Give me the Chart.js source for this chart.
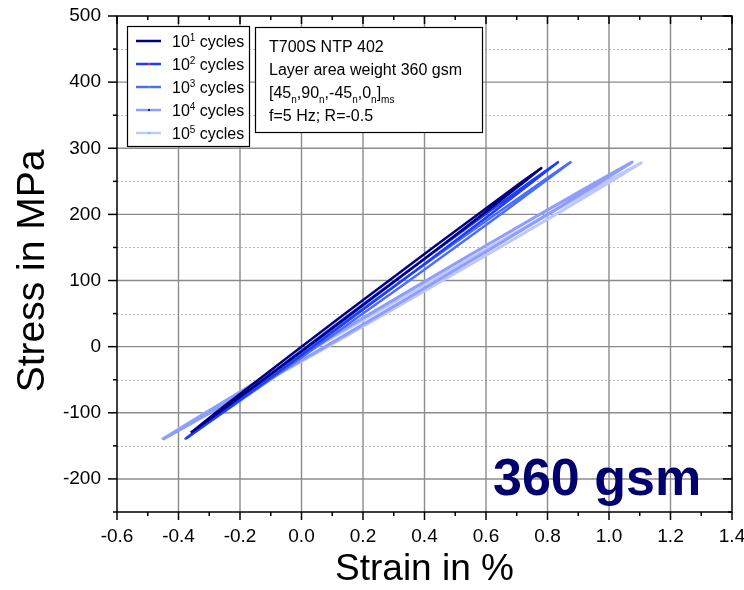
<!DOCTYPE html>
<html>
<head>
<meta charset="utf-8">
<script src="https://cdn.jsdelivr.net/npm/chart.js@4.4.1/dist/chart.umd.min.js"></script>
<style>
  html, body { margin: 0; padding: 0; background: #fff; }
</style>
</head>
<body>
<canvas id="chart" width="744" height="590"></canvas>
<script>
const FONT = "'Liberation Sans', Arial, Helvetica, sans-serif";

const x_ticks = [-0.6, -0.4, -0.2, 0.0, 0.2, 0.4, 0.6, 0.8, 1.0, 1.2, 1.4];
const y_ticks = [-200, -100, 0, 100, 200, 300, 400, 500];

const cycle_labels = ['10^1 cycles', '10^2 cycles', '10^3 cycles', '10^4 cycles', '10^5 cycles'];
const line_colors = ['#000080', '#1c3cff', '#4c6cff', '#8e9eff', '#bec8ff'];
const dot_colors = [null, '#ff2020', '#22c040', '#1414c8', '#30e0ff'];
const line_widths = [2.5, 2.5, 2.5, 3, 3];

const info_lines = ['T700S NTP 402', 'Layer area weight 360 gsm', '[45_n,90_n,-45_n,0_n]_ms', 'f=5 Hz; R=-0.5'];
const big_label = '360 gsm';
const y_title = 'Stress in MPa';

// hysteresis loops: loading branch then unloading branch (strain in %, stress in MPa)
const strain_e1 = [-0.360, -0.270, -0.124, 0.020, 0.164, 0.307, 0.448, 0.588, 0.727, 0.780,
                   0.719, 0.573, 0.428, 0.285, 0.142, 0.000, -0.140, -0.279, -0.360];
const stress_e1 = [-130, -100, -50, 0, 50, 100, 150, 200, 250, 270,
                   250, 200, 150, 100, 50, 0, -50, -100, -130];

const strain_e2 = [-0.375, -0.258, -0.109, 0.037, 0.183, 0.328, 0.471, 0.614, 0.754, 0.834,
                   0.746, 0.597, 0.451, 0.304, 0.160, 0.017, -0.126, -0.266, -0.375];
const stress_e2 = [-139, -100, -50, 0, 50, 100, 150, 200, 250, 279,
                   250, 200, 150, 100, 50, 0, -50, -100, -139];

const strain_e3 = [-0.380, -0.256, -0.102, 0.049, 0.200, 0.351, 0.499, 0.647, 0.792, 0.875,
                   0.784, 0.630, 0.478, 0.327, 0.178, 0.029, -0.119, -0.264, -0.380];
const stress_e3 = [-140, -100, -50, 0, 50, 100, 150, 200, 250, 279,
                   250, 200, 150, 100, 50, 0, -50, -100, -140];

const strain_e4 = [-0.450, -0.297, -0.109, 0.077, 0.260, 0.442, 0.623, 0.801, 0.977, 1.075,
                   0.963, 0.775, 0.589, 0.406, 0.224, 0.043, -0.135, -0.311, -0.450];
const stress_e4 = [-140, -100, -50, 0, 50, 100, 150, 200, 250, 279,
                   250, 200, 150, 100, 50, 0, -50, -100, -140];

const strain_e5 = [-0.455, -0.299, -0.106, 0.085, 0.272, 0.459, 0.644, 0.827, 1.008, 1.105,
                   0.993, 0.801, 0.610, 0.423, 0.236, 0.050, -0.132, -0.313, -0.455];
const stress_e5 = [-140, -100, -50, 0, 50, 100, 150, 200, 250, 278,
                   250, 200, 150, 100, 50, 0, -50, -100, -140];

const loops = [
  [strain_e1, stress_e1],
  [strain_e2, stress_e2],
  [strain_e3, stress_e3],
  [strain_e4, stress_e4],
  [strain_e5, stress_e5],
];

const to_points = (xs, ys) => xs.map((v, i) => ({ x: v, y: ys[i] }));

const datasets = [];
loops.forEach(([xs, ys], i) => {
  datasets.push({
    label: cycle_labels[i],
    data: to_points(xs, ys),
    borderColor: line_colors[i],
    backgroundColor: line_colors[i],
    borderWidth: line_widths[i],
    borderJoinStyle: 'round',
    showLine: true,
    pointRadius: 0,
    tension: 0,
  });
  if (dot_colors[i]) {
    // the original curves carry small coloured markers along the line
    datasets.push({
      label: '',
      data: to_points(xs, ys),
      borderColor: dot_colors[i],
      borderWidth: 1.5,
      borderDash: [2, 8],
      showLine: true,
      pointRadius: 0,
      tension: 0,
    });
  }
});

// draws text like "10^1 cycles" or "[45_n]_ms" with raised / lowered parts
const draw_rich = (ctx, str, x, y, size) => {
  const parts = str.split(/([_^][A-Za-z0-9]+)/).filter(p => p.length);
  ctx.textBaseline = 'alphabetic';
  ctx.textAlign = 'left';
  for (const p of parts) {
    if (p[0] === '^' || p[0] === '_') {
      const small = Math.round(size * 0.65);
      ctx.font = `${small}px ${FONT}`;
      const dy = p[0] === '^' ? -size * 0.38 : size * 0.3;
      ctx.fillText(p.slice(1), x, y + dy);
      x += ctx.measureText(p.slice(1)).width;
    } else {
      ctx.font = `${size}px ${FONT}`;
      ctx.fillText(p, x, y);
      x += ctx.measureText(p).width;
    }
  }
};

const frame_plugin = {
  id: 'frame',
  beforeDatasetsDraw(chart) {
    const { ctx, chartArea: a, scales: { x, y } } = chart;
    ctx.save();
    // minor horizontal grid, dotted
    ctx.strokeStyle = '#b8b8b8';
    ctx.lineWidth = 1;
    ctx.setLineDash([2, 2]);
    for (const v of y_ticks) {
      const py = Math.round(y.getPixelForValue(v - 50)) + 0.5;
      if (py >= a.bottom - 1) continue;
      ctx.beginPath(); ctx.moveTo(a.left, py); ctx.lineTo(a.right, py); ctx.stroke();
    }
    // major grid, solid grey
    ctx.setLineDash([]);
    ctx.strokeStyle = '#8c8c8c';
    ctx.lineWidth = 1.4;
    for (const v of y_ticks) {
      const py = y.getPixelForValue(v);
      if (py <= a.top + 1) continue;
      ctx.beginPath(); ctx.moveTo(a.left, py); ctx.lineTo(a.right, py); ctx.stroke();
    }
    for (const v of x_ticks) {
      const px = x.getPixelForValue(v);
      if (px <= a.left + 1 || px >= a.right - 1) continue;
      ctx.beginPath(); ctx.moveTo(px, a.top); ctx.lineTo(px, a.bottom); ctx.stroke();
    }
    ctx.restore();
  },
  afterDatasetsDraw(chart) {
    const { ctx, chartArea: a, scales: { x, y } } = chart;
    ctx.save();
    ctx.strokeStyle = '#000';
    ctx.lineWidth = 1.5;
    ctx.strokeRect(a.left, a.top, a.right - a.left, a.bottom - a.top);

    const tick = (x1, y1, x2, y2) => { ctx.beginPath(); ctx.moveTo(x1, y1); ctx.lineTo(x2, y2); ctx.stroke(); };
    x_ticks.forEach((v, i) => {
      const px = x.getPixelForValue(v);
      tick(px, a.bottom, px, a.bottom + 8);
      tick(px, a.top, px, a.top + 8);
      if (i < x_ticks.length - 1) {
        const mx = x.getPixelForValue(v + 0.1);
        tick(mx, a.bottom, mx, a.bottom + 4);
        tick(mx, a.top, mx, a.top + 4);
      }
    });
    y_ticks.forEach(v => {
      const py = y.getPixelForValue(v);
      tick(a.left, py, a.left - 9, py);
      tick(a.right, py, a.right - 9, py);
      const my = y.getPixelForValue(v - 50);
      tick(a.left, my, a.left - 4, my);
      tick(a.right, my, a.right - 4, my);
    });

    // y axis title, rotated
    ctx.fillStyle = '#000';
    ctx.font = `39px ${FONT}`;
    ctx.textAlign = 'center';
    ctx.textBaseline = 'alphabetic';
    ctx.translate(43.5, 271);
    ctx.rotate(-Math.PI / 2);
    ctx.fillText(y_title, 0, 0);
    ctx.restore();
  },
  afterDraw(chart) {
    const { ctx } = chart;
    ctx.save();
    // legend box
    ctx.fillStyle = '#fff';
    ctx.fillRect(127, 26, 122, 120);
    ctx.strokeStyle = '#000';
    ctx.lineWidth = 1.2;
    ctx.strokeRect(127.5, 26.5, 122, 120);
    cycle_labels.forEach((lab, i) => {
      const cy = 41 + i * 23;
      ctx.strokeStyle = line_colors[i];
      ctx.lineWidth = 2.5;
      ctx.beginPath(); ctx.moveTo(136, cy); ctx.lineTo(161, cy); ctx.stroke();
      if (dot_colors[i]) {
        ctx.fillStyle = dot_colors[i];
        ctx.fillRect(148, cy - 1, 2, 2);
      }
      ctx.fillStyle = '#000';
      draw_rich(ctx, lab, 172, cy + 6, 16);
    });

    // info box
    ctx.fillStyle = '#fff';
    ctx.fillRect(255, 27, 227, 105);
    ctx.strokeStyle = '#000';
    ctx.lineWidth = 1.2;
    ctx.strokeRect(255.5, 27.5, 227, 105);
    ctx.fillStyle = '#000';
    info_lines.forEach((line, i) => {
      draw_rich(ctx, line, 269, 46 + i * 23 + 6, 16);
    });

    // big label
    ctx.fillStyle = '#00006e';
    ctx.font = `bold 52px ${FONT}`;
    ctx.textAlign = 'left';
    ctx.textBaseline = 'alphabetic';
    ctx.fillText(big_label, 493, 494.5);
    ctx.restore();
  },
};

const ctx = document.getElementById('chart').getContext('2d');
const chart = new Chart(ctx, {
  type: 'scatter',
  data: { datasets: datasets },
  options: {
    responsive: false,
    animation: false,
    devicePixelRatio: 1,
    layout: { padding: { top: 16, right: 12, left: 0, bottom: 0 } },
    plugins: { legend: { display: false }, tooltip: { enabled: false } },
    scales: {
      x: {
        type: 'linear',
        min: -0.6,
        max: 1.4,
        afterBuildTicks: (s) => { s.ticks = x_ticks.map(v => ({ value: v })); },
        afterFit: (s) => { s.height = 78; s.paddingLeft = 0; s.paddingRight = 0; },
        grid: { display: false, drawTicks: false },
        border: { display: false },
        ticks: {
          padding: 13,
          color: '#000',
          autoSkip: false,
          maxRotation: 0,
          font: { family: FONT, size: 19 },
          callback: (v) => Number(v).toFixed(1),
        },
        title: {
          display: true,
          text: 'Strain in %',
          color: '#000',
          font: { family: FONT, size: 37, lineHeight: 1.1 },
          padding: { top: 0, bottom: 0 },
        },
      },
      y: {
        type: 'linear',
        min: -250,
        max: 500,
        afterBuildTicks: (s) => { s.ticks = y_ticks.map(v => ({ value: v })); },
        afterFit: (s) => { s.width = 117; s.paddingTop = 0; s.paddingBottom = 0; },
        grid: { display: false, drawTicks: false },
        border: { display: false },
        ticks: {
          padding: 16,
          color: '#000',
          autoSkip: false,
          font: { family: FONT, size: 19 },
          callback: (v) => String(v),
        },
        title: { display: false },
      },
    },
  },
  plugins: [frame_plugin],
});
</script>
</body>
</html>
